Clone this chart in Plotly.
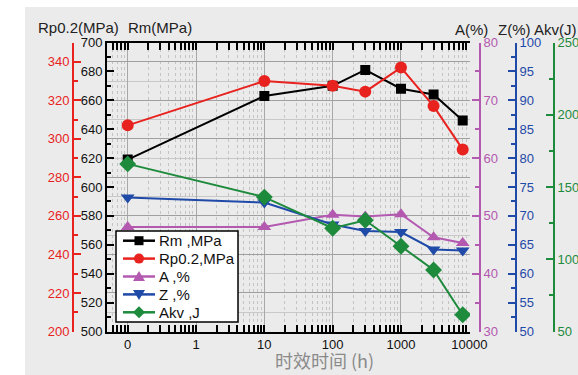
import plotly.graph_objects as go

# ---- data ----
times = [0, 10, 100, 300, 1000, 3000, 8000]
rm = [619, 663, 670, 681, 668, 664, 646]
rp02 = [307, 330, 327.5, 324.5, 337, 317, 294.5]
a_pct = [48.1, 48.1, 50.2, 49.9, 50.3, 46.3, 45.3]
z_pct = [73.2, 72.3, 68.5, 67.4, 67.2, 64.2, 64.0]
akv = [166, 143, 121.5, 127, 109, 92.6, 61.6]

series_names = ["Rm ,MPa", "Rp0.2,MPa", "A ,%", "Z ,%", "Akv ,J"]

x_tickvals = [0.1, 1, 10, 100, 1000, 10000]
x_ticktext = ["0", "1", "10", "100", "1000", "10000"]

# "0" h is drawn at the 0.1 position of the log axis
x_plot = [t if t > 0 else 0.1 for t in times]

W, H = 578, 375
BG = "#ebebeb"
RED = "#e8231f"
BLACK = "#000000"
PURPLE = "#b359b0"
BLUE = "#1f4aa8"
GREEN = "#1d8a3c"
NARROW = "Liberation Sans Narrow, Arial Narrow, Liberation Sans, Arial"
SANS = "Liberation Sans, Arial"

minor_x = [m * 10 ** e for e in range(-2, 5) for m in range(2, 10)]

fig = go.Figure()

styles = [
    (BLACK, "square", 10, "y"),
    (RED, "circle", 12, "y2"),
    (PURPLE, "triangle-up", 12, "y3"),
    (BLUE, "triangle-down", 12, "y4"),
    (GREEN, "diamond", 13, "y5"),
]
values = [rm, rp02, a_pct, z_pct, akv]
for name, vals, (col, sym, sz, ya) in zip(series_names, values, styles):
    fig.add_trace(go.Scatter(
        x=x_plot, y=vals, name=name, yaxis=ya, mode="lines+markers",
        line=dict(color=col, width=2),
        marker=dict(symbol=sym, size=sz, color=col),
        showlegend=False,
    ))

x0, x1 = 107 / W, 470 / W
y0, y1 = 1 - 331.5 / H, 1 - 42.5 / H

def yax(col, rng, dtick, minor, pos=None, side="left", overlay=True, labcol=None):
    d = dict(
        range=rng, dtick=dtick, tick0=rng[0], showgrid=False, zeroline=False,
        showline=True, linecolor=col, linewidth=2, automargin=False,
        ticks="inside", ticklen=7, tickwidth=2, tickcolor=col,
        tickfont=dict(family=NARROW, size=13, color=labcol or col),
        minor=dict(dtick=minor, ticks="inside", ticklen=4, tickwidth=2, tickcolor=col),
        side=side, domain=[y0, y1],
    )
    if overlay:
        d.update(overlaying="y")
    if pos is not None:
        d.update(anchor="free", position=pos)
    return d

y2 = yax(RED, [200, 350], 20, 10, pos=73 / W)
# grid follows the Rp0.2 axis ticks
y2.update(showgrid=True, gridcolor="#a0a0a0", gridwidth=1)
y2["minor"].update(showgrid=True, gridcolor="#c8c8c8", gridwidth=1)

fig.update_layout(
    width=W, height=H,
    margin=dict(l=0, r=0, t=0, b=0, autoexpand=False),
    paper_bgcolor="white",
    plot_bgcolor=BG,
    showlegend=False,
    xaxis=dict(
        type="log", range=[-1.303, 4.01], domain=[x0, x1], automargin=False,
        tickmode="array", tickvals=x_tickvals, ticktext=x_ticktext,
        tickfont=dict(family=NARROW, size=13, color="#111"),
        ticks="inside", ticklen=7, tickwidth=1.5, tickcolor=BLACK,
        showline=True, linecolor=BLACK, linewidth=2, mirror="allticks",
        showgrid=True, gridcolor="#a8a8a8", gridwidth=1,
        minor=dict(tickmode="array", tickvals=minor_x, ticks="inside", ticklen=4,
                   tickwidth=1.5, tickcolor=BLACK, showgrid=True,
                   gridcolor="#c4c4c4", griddash="dot", gridwidth=1),
        zeroline=False, anchor="y",
    ),
    yaxis=yax(BLACK, [500, 700], 20, 10, overlay=False, labcol="#111"),
    yaxis2=y2,
    yaxis3=yax(PURPLE, [30, 80], 10, 5, pos=480 / W, side="right"),
    yaxis4=yax(BLUE, [50, 100], 5, 2.5, pos=516 / W, side="right"),
    yaxis5=yax(GREEN, [50, 250], 50, 25, pos=554 / W, side="right"),
)

def px(x):
    return x / W

def py(y):
    return 1 - y / H

# gray background panel
fig.add_shape(type="rect", xref="paper", yref="paper", x0=px(25), x1=1, y0=0, y1=py(7),
              fillcolor=BG, line=dict(width=0), layer="below")

# ---- legend box (drawn as decoration) ----
fig.add_shape(type="rect", xref="paper", yref="paper", x0=px(116), x1=px(238),
              y0=py(322), y1=py(231), fillcolor="white",
              line=dict(color=BLACK, width=1.5))
row0, rowgap = 240.7, 17.9
lx0, lx1, mx = 123, 155, 139
for i, (name, (col, sym, sz, ya)) in enumerate(zip(series_names, styles)):
    yc = row0 + i * rowgap
    fig.add_shape(type="line", xref="paper", yref="paper", x0=px(lx0), x1=px(lx1),
                  y0=py(yc), y1=py(yc), line=dict(color=col, width=2.5))
    r = 5
    if sym == "square":
        fig.add_shape(type="rect", xref="paper", yref="paper", x0=px(mx - 4.5), x1=px(mx + 4.5),
                      y0=py(yc + 4.5), y1=py(yc - 4.5), fillcolor=col, line=dict(width=0))
    elif sym == "circle":
        fig.add_shape(type="circle", xref="paper", yref="paper", x0=px(mx - r), x1=px(mx + r),
                      y0=py(yc + r), y1=py(yc - r), fillcolor=col, line=dict(width=0))
    else:
        if sym == "triangle-up":
            pts = [(mx - 6, yc + 4.5), (mx + 6, yc + 4.5), (mx, yc - 5.5)]
        elif sym == "triangle-down":
            pts = [(mx - 6, yc - 4.5), (mx + 6, yc - 4.5), (mx, yc + 5.5)]
        else:
            pts = [(mx, yc - 6), (mx + 6, yc), (mx, yc + 6), (mx - 6, yc)]
        path = "M " + " L ".join(f"{px(a):.5f},{py(b):.5f}" for a, b in pts) + " Z"
        fig.add_shape(type="path", xref="paper", yref="paper", path=path,
                      fillcolor=col, line=dict(width=0))
    fig.add_annotation(text=name, x=px(157), y=py(yc), xref="paper", yref="paper",
                       showarrow=False, xanchor="left", yanchor="middle",
                       font=dict(family=SANS, size=15, color="#111"))

ann = [
    ("Rp0.2(MPa)", 78, 28),
    ("Rm(MPa)", 160, 28),
    ("A(%)", 471, 30),
    ("Z(%)", 514, 30),
    ("Akv(J)", 555, 30),
]
for txt, xp, ypx in ann:
    fig.add_annotation(text=txt, x=px(xp), y=py(ypx), xref="paper", yref="paper",
                       showarrow=False, xanchor="center", yanchor="middle",
                       font=dict(family=SANS, size=15, color="#222"))
fig.add_annotation(text="时效时间 (h)", x=px(324), y=py(360), xref="paper", yref="paper",
                   showarrow=False, xanchor="center", yanchor="middle",
                   font=dict(family="Noto Sans CJK SC", size=18, color="#8a8a8a"))

fig.write_html("out.html", config={"displayModeBar": False},
               post_script="document.body.style.margin='0px';")
